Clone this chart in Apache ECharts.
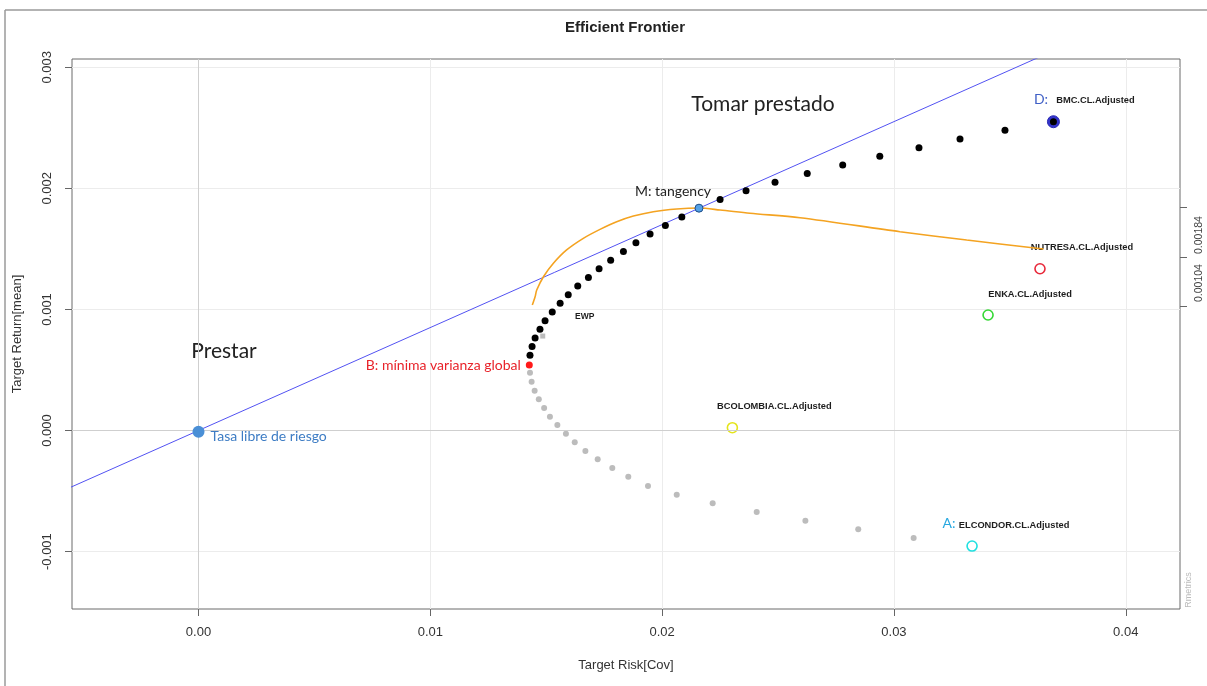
<!DOCTYPE html>
<html><head><meta charset="utf-8">
<script src="https://cdn.jsdelivr.net/npm/echarts@6/dist/echarts.min.js"></script>
<style>html,body{margin:0;padding:0;background:#fff}#c{width:1207px;height:686px}</style>
</head><body><div id="c"></div>
<script>
// ---- data ----
const frontierRisk = [0.03688,0.03479,0.03285,0.03108,0.02939,0.02779,0.02626,0.02487,0.02362,0.02250,0.02159,0.02085,0.02014,0.01948,0.01887,0.01833,0.01778,0.01728,0.01682,0.01636,0.01595,0.01560,0.01526,0.01495,0.01473,0.01452,0.01439,0.01430];
const frontierReturn = [0.002550,0.002479,0.002407,0.002336,0.002264,0.002193,0.002122,0.002050,0.001979,0.001907,0.001836,0.001764,0.001693,0.001622,0.001550,0.001479,0.001407,0.001336,0.001264,0.001193,0.001122,0.001050,0.000979,0.000907,0.000836,0.000764,0.000693,0.000622];
const lowerRisk = [0.01430,0.01437,0.01450,0.01468,0.01491,0.01516,0.01548,0.01585,0.01623,0.01669,0.01722,0.01785,0.01854,0.01939,0.02063,0.02218,0.02408,0.02618,0.02846,0.03085];
const lowerReturn = [0.000477,0.000403,0.000329,0.000258,0.000186,0.000114,0.000045,-0.000026,-0.000097,-0.000169,-0.000238,-0.000310,-0.000382,-0.000458,-0.000530,-0.000601,-0.000673,-0.000745,-0.000816,-0.000888];
const sharpeRisk = [0.01440,0.01452,0.01459,0.01488,0.01531,0.01588,0.01660,0.01732,0.01804,0.01876,0.01962,0.02063,0.02159,0.02250,0.02379,0.02595,0.03026,0.03314,0.03645];
const sharpeLevel = [0.001036,0.001104,0.001160,0.001270,0.001381,0.001491,0.001587,0.001661,0.001724,0.001771,0.001807,0.001829,0.001837,0.001821,0.001794,0.001757,0.001642,0.001573,0.001499];
const assetNames = ['BMC.CL.Adjusted','NUTRESA.CL.Adjusted','ENKA.CL.Adjusted','BCOLOMBIA.CL.Adjusted','ELCONDOR.CL.Adjusted'];
const assetRisk = [0.03688,0.03630,0.03406,0.02303,0.03337];
const assetReturn = [0.002550,0.001336,0.000954,0.000023,-0.000954];
const cmlRisk = [-0.0060,0.0370];
const cmlReturn = [-0.000510,0.003146];
const tangency = [0.02159,0.001836];
const minVariance = [0.01427,0.000541];
const ewp = [0.01485,0.000780];
const riskFree = [0,-0.00001];
const xTicks = [0,0.01,0.02,0.03,0.04];
const yTicks = [-0.001,0,0.001,0.002,0.003];
const rightTicks = [0.001026,0.001430,0.001843];
const rightLabelAt = [0.001218,0.001614];
const rightLabels = ['0.00104','0.00184'];

// ---- styles ----
const assetColors = ['#3434cc','#e8283a','#35d835','#e4e41c','#20e0e0'];
const FONT = 'Liberation Sans, Arial, sans-serif';
const ANN = 'Lato, "Open Sans", sans-serif';

const chart = echarts.init(document.getElementById('c'), null, {renderer:'canvas'});
const zip = (a,b) => a.map((v,i)=>[v,b[i]]);

const xMin = -0.005457, xMax = 0.04234, yMin = -0.001474, yMax = 0.003068;

const option = {
  animation:false,
  backgroundColor:'#fff',
  grid:{left:72,right:27,top:59,bottom:77,show:true,borderColor:'#6a6a6a',borderWidth:1,backgroundColor:'transparent'},
  xAxis:{type:'value',min:xMin,max:xMax,
    name:'Target Risk[Cov]',nameLocation:'middle',nameGap:50,
    nameTextStyle:{fontFamily:FONT,fontSize:13,color:'#333'},
    axisLine:{show:false,onZero:false},
    axisTick:{show:true,customValues:xTicks,length:7,lineStyle:{color:'#666'}},
    axisLabel:{customValues:xTicks,margin:17,fontFamily:FONT,fontSize:13,color:'#333',
      formatter:v=>Math.abs(v)<1e-12?'0.00':v.toFixed(2)},
    splitLine:{show:true,lineStyle:{color:'#ececec',width:1}}},
  yAxis:[{type:'value',min:yMin,max:yMax,
    name:'Target Return[mean]',nameLocation:'middle',nameGap:48,
    nameTextStyle:{fontFamily:FONT,fontSize:13,color:'#333'},
    axisLine:{show:false,onZero:false},
    axisTick:{show:true,customValues:yTicks,length:7,lineStyle:{color:'#666'}},
    axisLabel:{customValues:yTicks,rotate:90,margin:18,fontFamily:FONT,fontSize:13,color:'#333',
      formatter:v=>Math.abs(v)<1e-12?'0.000':v.toFixed(3)},
    splitLine:{show:true,lineStyle:{color:'#ececec',width:1}}},
   {type:'value',min:yMin,max:yMax,position:'right',
    axisLine:{show:false,onZero:false},
    axisTick:{show:true,customValues:rightTicks,length:7,lineStyle:{color:'#666'}},
    axisLabel:{customValues:rightLabelAt,rotate:90,margin:14,fontFamily:FONT,fontSize:10.5,color:'#444',
      formatter:v=>v>0.0014?rightLabels[1]:rightLabels[0]},
    splitLine:{show:false}}],
  series:[
    {type:'scatter',name:'lower',z:2,symbolSize:6,itemStyle:{color:'#bcbcbc',opacity:1},
     data:zip(lowerRisk,lowerReturn),
     markLine:{silent:true,symbol:'none',label:{show:false},lineStyle:{color:'#cfcfcf',type:'solid',width:1},
       data:[{xAxis:0},{yAxis:0}]}},
    {type:'scatter',name:'assets',z:3,symbolSize:10,
     data:assetNames.map((n,i)=>({name:n,value:[assetRisk[i],assetReturn[i]],symbolSize:i===0?12:10,
       itemStyle: i===0?{color:assetColors[i],borderColor:'#2a2ab4',borderWidth:1,opacity:1}:{color:'rgba(0,0,0,0)',borderColor:assetColors[i],borderWidth:1.6,opacity:1}})),
     label:{show:true,position:'inside',offset:[42,-21],formatter:p=>p.name,
       fontFamily:FONT,fontSize:9.3,fontWeight:'bold',color:'#1e1e1e'}},
    {type:'line',name:'cml',z:4,data:zip(cmlRisk,cmlReturn),showSymbol:false,symbol:'none',clip:true,
     lineStyle:{color:'#5252f2',width:1}},
    {type:'scatter',name:'frontier',z:5,symbolSize:7,itemStyle:{color:'#000',opacity:1},
     data:zip(frontierRisk,frontierReturn)},
    {type:'line',name:'sharpe',z:6,data:zip(sharpeRisk,sharpeLevel),showSymbol:false,symbol:'none',smooth:0.3,
     lineStyle:{color:'#f4a321',width:1.6}},
    {type:'scatter',name:'ewp',z:7,symbol:'rect',symbolSize:5,itemStyle:{color:'#bcbcbc',opacity:1},
     data:[{name:'EWP',value:ewp}],
     label:{show:true,position:'inside',offset:[42,-19],formatter:'EWP',fontFamily:FONT,fontSize:8.5,fontWeight:'bold',color:'#1e1e1e'}},
    {type:'scatter',name:'minvar',z:8,symbolSize:7,itemStyle:{color:'#ff1a1a',opacity:1},
     data:[{name:'B',value:minVariance}],
     label:{show:true,position:'left',distance:5,formatter:'B: mínima varianza global',fontFamily:ANN,fontSize:14,color:'#e8232a'}},
    {type:'scatter',name:'tangency',z:8,symbolSize:8,itemStyle:{color:'#55a2e6',borderColor:'#1f4e8a',borderWidth:1,opacity:1},
     data:[{name:'M',value:tangency}],
     label:{show:true,position:'inside',offset:[-26,-17],formatter:'M: tangency',fontFamily:ANN,fontSize:14,color:'#222'}},
    {type:'scatter',name:'rf',z:8,symbolSize:12,itemStyle:{color:'#4a8fd6',opacity:1},
     data:[{name:'rf',value:riskFree}],
     label:{show:true,position:'right',distance:6,offset:[0,5],formatter:'Tasa libre de riesgo',fontFamily:ANN,fontSize:14,color:'#3d7cc4'}}
  ],
  graphic:[
    {type:'line',shape:{x1:5,y1:10,x2:5,y2:686},style:{stroke:'#9a9a9a',lineWidth:1.5},silent:true},
    {type:'line',shape:{x1:5,y1:10,x2:1207,y2:10},style:{stroke:'#9a9a9a',lineWidth:1.5},silent:true},
    {type:'text',x:625,y:28,style:{text:'Efficient Frontier',font:'bold 15px '+FONT,fill:'#222',align:'center',verticalAlign:'middle',textAlign:'center',textVerticalAlign:'middle'}},
    {type:'text',x:763,y:104,style:{text:'Tomar prestado',font:'21px '+ANN,fill:'#222',align:'center',verticalAlign:'middle',textAlign:'center',textVerticalAlign:'middle'}},
    {type:'text',x:224,y:351,style:{text:'Prestar',font:'21px '+ANN,fill:'#222',align:'center',verticalAlign:'middle',textAlign:'center',textVerticalAlign:'middle'}},
    {type:'text',x:1041,y:99,style:{text:'D:',font:'14px '+ANN,fill:'#3f5fc6',align:'center',verticalAlign:'middle',textAlign:'center',textVerticalAlign:'middle'}},
    {type:'text',x:949,y:523,style:{text:'A:',font:'14px '+ANN,fill:'#28a8e0',align:'center',verticalAlign:'middle',textAlign:'center',textVerticalAlign:'middle'}},
    {type:'text',x:1189,y:590,rotation:Math.PI/2,style:{text:'Rmetrics',font:'9px '+FONT,fill:'#bbbbbb',align:'center',verticalAlign:'middle',textAlign:'center',textVerticalAlign:'middle'}}
  ]
};
chart.setOption(option);
</script></body></html>
